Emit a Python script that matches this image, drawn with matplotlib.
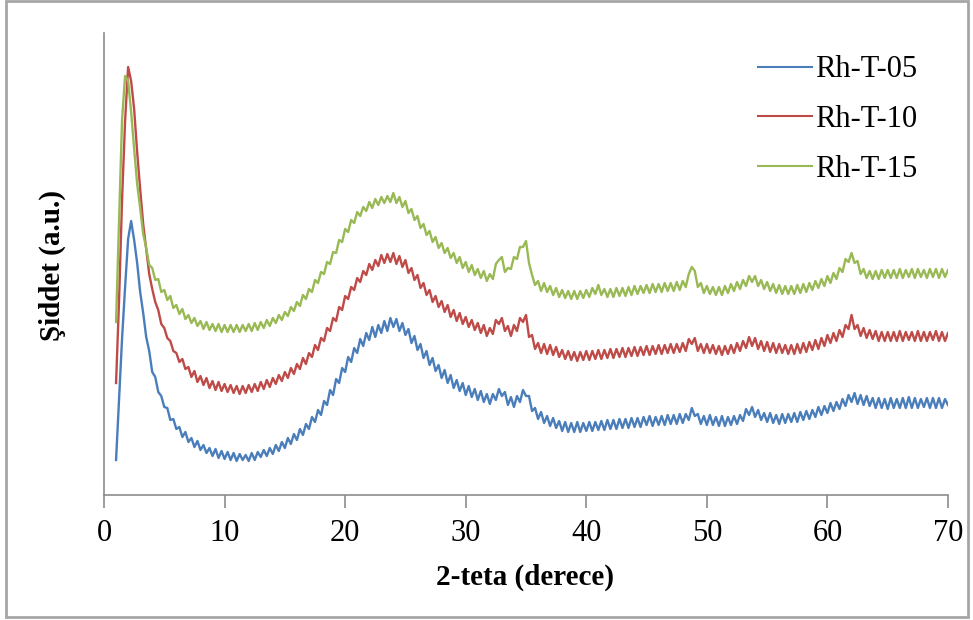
import numpy as np
import matplotlib
matplotlib.use("Agg")
import matplotlib.pyplot as plt
from matplotlib.patches import Rectangle

plt.rcParams['font.family'] = ['Liberation Serif', 'DejaVu Serif']

# 2-theta sampling, 0.25 degree steps from 1 to 70
two_theta = np.arange(1.0, 70.001, 0.25)

# intensities (arbitrary units)
rh_t_05 = [35,
    95, 157, 208, 256,  274, 255, 232, 203,  182, 158, 144, 123,  118, 103, 99, 88,
    87, 75, 76, 66,  68, 58, 63, 53,  57, 48, 54, 45,  50, 42, 47, 39,
    46, 37, 44, 36,  43, 35, 42, 34,  41, 35, 40, 34,  42, 35, 43, 38,
    45, 39, 47, 41,  50, 44, 53, 47,  57, 51, 61, 55,  66, 60, 71, 66,
    78, 73, 85, 80,  94, 90, 105, 100,  116, 112, 127, 123,  138, 133, 147, 142,
    156, 149, 162, 155,  168, 158, 170, 162,  174, 164, 177, 168,  176, 164, 172, 160,
    166, 152, 159, 145,  151, 137, 144, 130,  137, 124, 130, 117,  125, 112, 120, 107,
    115, 104, 112, 100,  109, 98, 106, 95,  104, 93, 101, 91,  101, 95, 106, 99,
    103, 90, 98, 88,  99, 93, 105, 99,  99, 84, 87, 76,  83, 72, 79, 69,
    77, 67, 74, 64,  73, 63, 72, 63,  73, 63, 72, 64,  73, 64, 73, 65,
    74, 65, 75, 66,  75, 66, 76, 67,  76, 67, 77, 68,  77, 68, 78, 70,
    79, 69, 78, 70,  79, 70, 80, 71,  80, 71, 81, 72,  81, 75, 87, 79,
    81, 71, 79, 70,  80, 70, 78, 69,  79, 69, 78, 70,  79, 71, 80, 74,
    86, 80, 88, 78,  85, 75, 82, 73,  82, 72, 80, 71,  81, 72, 81, 73,
    82, 73, 83, 75,  84, 76, 85, 78,  88, 80, 89, 82,  92, 84, 93, 86,
    96, 89, 100, 93,  102, 91, 100, 90,  99, 89, 97, 87,  97, 87, 96, 86,
    97, 87, 96, 87,  97, 87, 98, 87,  97, 87, 96, 88,  97, 87, 97, 87,
    97, 87, 96, 90]

rh_t_10 = [112,
    195, 296, 374, 428,  414, 386, 343, 306,  271, 246, 221, 206,  193, 185, 171, 167,
    157, 154, 144, 142,  133, 136, 126, 128,  118, 124, 113, 119,  110, 117, 107, 114,
    105, 113, 104, 111,  103, 110, 102, 109,  101, 109, 102, 110,  103, 111, 104, 113,
    106, 115, 108, 117,  111, 120, 114, 123,  117, 127, 121, 131,  126, 137, 131, 142,
    138, 150, 145, 157,  154, 167, 164, 177,  174, 188, 185, 199,  196, 208, 205, 217,
    213, 224, 220, 231,  225, 235, 229, 240,  232, 241, 233, 242,  231, 239, 228, 235,
    222, 227, 215, 220,  207, 212, 200, 205,  193, 199, 188, 194,  183, 190, 178, 185,
    174, 182, 171, 178,  168, 175, 165, 172,  162, 170, 159, 167,  161, 175, 171, 177,
    164, 169, 159, 170,  164, 177, 173, 180,  158, 160, 146, 152,  142, 151, 141, 150,
    140, 148, 138, 145,  136, 144, 135, 143,  134, 143, 135, 144,  135, 144, 136, 145,
    136, 145, 137, 146,  137, 146, 138, 147,  138, 147, 139, 148,  139, 148, 140, 149,
    140, 149, 141, 150,  141, 150, 142, 151,  142, 151, 143, 152,  144, 156, 151, 157,
    144, 151, 142, 151,  142, 150, 141, 149,  140, 149, 141, 150,  142, 152, 144, 154,
    147, 158, 149, 157,  146, 154, 144, 153,  143, 152, 142, 151,  142, 150, 141, 150,
    141, 151, 142, 152,  143, 153, 145, 155,  146, 157, 149, 160,  152, 162, 154, 165,
    158, 170, 166, 180,  166, 170, 159, 167,  157, 165, 156, 164,  154, 163, 154, 163,
    154, 163, 154, 164,  154, 163, 155, 163,  154, 164, 154, 163,  154, 163, 155, 164,
    154, 163, 154, 162]

rh_t_15 = [173,
    275, 376, 419, 414,  383, 346, 311, 287,  261, 247, 230, 227,  215, 216, 203, 205,
    195, 199, 187, 190,  181, 186, 176, 180,  172, 177, 169, 174,  166, 173, 165, 171,
    164, 171, 163, 170,  163, 170, 163, 170,  163, 170, 164, 171,  164, 172, 165, 173,
    167, 175, 169, 177,  172, 180, 175, 183,  179, 188, 184, 193,  189, 200, 196, 206,
    203, 215, 212, 223,  221, 233, 231, 243,  242, 255, 253, 266,  263, 275, 272, 283,
    279, 288, 284, 293,  287, 296, 290, 298,  292, 299, 293, 302,  292, 298, 288, 294,
    282, 286, 275, 279,  267, 271, 260, 264,  253, 258, 247, 252,  242, 247, 237, 242,
    232, 238, 227, 233,  223, 230, 220, 226,  217, 224, 214, 221,  216, 231, 235, 238,
    223, 227, 226, 238,  236, 248, 248, 254,  232, 220, 210, 214,  204, 212, 203, 209,
    200, 207, 198, 205,  197, 204, 196, 204,  196, 204, 197, 205,  198, 207, 201, 210,
    200, 206, 198, 206,  198, 207, 199, 207,  199, 208, 200, 209,  201, 209, 202, 210,
    202, 211, 203, 211,  203, 212, 204, 212,  204, 213, 205, 214,  208, 221, 228, 224,
    208, 212, 202, 209,  201, 208, 200, 208,  200, 209, 202, 211,  204, 213, 206, 215,
    209, 219, 213, 219,  209, 215, 206, 213,  204, 211, 202, 210,  201, 209, 201, 209,
    201, 210, 202, 211,  203, 212, 205, 214,  207, 216, 209, 219,  212, 222, 216, 227,
    223, 236, 233, 242,  232, 234, 221, 226,  217, 224, 216, 224,  216, 225, 217, 225,
    217, 225, 217, 226,  217, 225, 218, 226,  217, 226, 218, 225,  217, 226, 218, 226,
    217, 226, 218, 225]

labels = ['Rh-T-05', 'Rh-T-10', 'Rh-T-15']
colors = ['#4A7EBB', '#BE4B48', '#98B954']
x_ticks = [0, 10, 20, 30, 40, 50, 60, 70]

fig = plt.figure(figsize=(9.73, 6.2), dpi=100)
ax = fig.add_axes([104 / 973, 1 - 495 / 620, 844 / 973, 462 / 620])

for series, lab, col in zip([rh_t_05, rh_t_10, rh_t_15], labels, colors):
    ax.plot(two_theta, series, color=col, lw=1.7, label=lab)

ax.set_xlim(0, 70)
ax.set_ylim(0, 462)
ax.set_xticks(x_ticks)
ax.set_yticks([])
for side in ['top', 'right']:
    ax.spines[side].set_visible(False)
for side in ['left', 'bottom']:
    ax.spines[side].set_color('#8c8c8c')
    ax.spines[side].set_linewidth(1.2)
ax.tick_params(axis='x', direction='out', length=9, width=1.2, color='#8c8c8c',
               labelsize=22, pad=8)

fig.text(525 / 973, 1 - 577 / 620, '2-teta (derece)', ha='center', va='center',
         fontsize=21, fontweight='bold')
fig.text(52 / 973, 1 - 265 / 620, 'Şiddet (a.u.)', ha='center', va='center',
         rotation=90, fontsize=21, fontweight='bold')

leg = ax.legend(loc='upper left', bbox_to_anchor=(743 / 973, 1 - 40 / 620),
                bbox_transform=fig.transFigure, frameon=False, fontsize=22,
                handlelength=1.75, handletextpad=0.1, labelspacing=0.68, borderpad=0)
for h in leg.get_lines():
    h.set_linewidth(1.5)

fig.patches.append(Rectangle((6 / 973, 3 / 620), 962 / 973, 616 / 620,
                             transform=fig.transFigure, fill=False,
                             edgecolor='#a6a6a6', linewidth=2))

fig.savefig('out.png', dpi=100)
